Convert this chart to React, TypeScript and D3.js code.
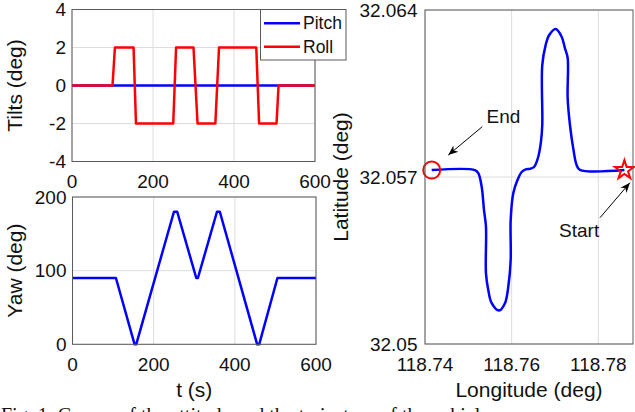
import React from "react";
import * as d3 from "d3";

// ---- data ----
const rollT = [0, 100, 106, 152, 158, 250, 257, 300, 310, 354, 363, 455, 462, 505, 510, 600];
const rollV = [0, 0, 2, 2, -2, -2, 2, 2, -2, -2, 2, 2, -2, -2, 0, 0];
const pitchT = [0, 600];
const pitchV = [0, 0];
const yawT = [0, 107, 153, 157, 250, 258, 305, 309, 356, 363, 455, 460, 505, 600];
const yawV = [90, 90, 0, 0, 180, 180, 90, 90, 180, 180, 0, 0, 90, 90];

const trajLon = [118.78602, 118.77576, 118.77499, 118.77421, 118.77345, 118.77292, 118.77292, 118.7723, 118.77153, 118.77015, 118.76867, 118.76784, 118.76706, 118.76706, 118.76676, 118.76614, 118.76521, 118.76422, 118.76323, 118.76231, 118.76134, 118.76037, 118.75977, 118.75977, 118.75922, 118.75845, 118.75707, 118.75539, 118.7546, 118.75407, 118.75407, 118.75361, 118.75308, 118.7523, 118.75153, 118.74155];
const trajLat = [32.05729, 32.0573, 32.0575, 32.0582, 32.05918, 32.06031, 32.06199, 32.06239, 32.06288, 32.0632, 32.06295, 32.06253, 32.06169, 32.05918, 32.05848, 32.05785, 32.05743, 32.05734, 32.05732, 32.05721, 32.05687, 32.05632, 32.0552, 32.05352, 32.0524, 32.05171, 32.0514, 32.05171, 32.05226, 32.05296, 32.05492, 32.05562, 32.05659, 32.05716, 32.05729, 32.05729];

const startPt = [118.78602, 32.05729];
const endPt = [118.74155, 32.05729];

const tTicks = [0, 200, 400, 600];
const tiltTicks = [-4, -2, 0, 2, 4];
const yawTicks = [0, 100, 200];
const lonTicks = [118.74, 118.76, 118.78];
const latTicks = [32.05, 32.057, 32.064];
const latTickLabels = ["32.05", "32.057", "32.064"];

const legendNames = ["Pitch", "Roll"];
const legendColors = ["#0000ff", "#ff0000"];

// annotations in data coords of the map axes: [tailLon, tailLat, headLon, headLat]
const endArrow = [118.75322, 32.05911, 118.74537, 32.05792];
const startArrow = [118.78037, 32.05529, 118.78729, 32.05676];
const endLabel = { text: "End", lon: 118.75811, lat: 32.05928 };
const startLabel = { text: "Start", lon: 118.77557, lat: 32.0545 };

const FONT = "Liberation Sans";
const SERIF = "Liberation Serif";
const AX = "#5a5a5a";
const GRID = "#dcdcdc";
const TICKF = 19;
const LABF = 21;

function Frame({ x, y, xTicks, yTicks, xFmt, yFmt, yGap = 6 }: any) {
  const [x0, x1] = x.range();
  const [y0, y1] = y.range();
  return (
    <g>
      <rect x={x0} y={y1} width={x1 - x0} height={y0 - y1} fill="white" />
      {xTicks.map((t: number, i: number) => (
        <line key={"gx" + i} x1={x(t)} x2={x(t)} y1={y0} y2={y1} stroke={GRID} strokeWidth={1} />
      ))}
      {yTicks.map((t: number, i: number) => (
        <line key={"gy" + i} x1={x0} x2={x1} y1={y(t)} y2={y(t)} stroke={GRID} strokeWidth={1} />
      ))}
      {xTicks.map((t: number, i: number) => (
        <text key={"tx" + i} x={x(t)} y={y0 + 26.5} textAnchor="middle" fontSize={TICKF} style={{ fontFamily: FONT }} fill="#111">
          {xFmt(t, i)}
        </text>
      ))}
      {yTicks.map((t: number, i: number) => (
        <text key={"ty" + i} x={x0 - yGap} y={y(t)} dy="0.35em" textAnchor="end" fontSize={TICKF} style={{ fontFamily: FONT }} fill="#111">
          {yFmt(t, i)}
        </text>
      ))}
    </g>
  );
}

function Box({ x, y }: any) {
  const [x0, x1] = x.range();
  const [y0, y1] = y.range();
  return <rect x={x0} y={y1} width={x1 - x0} height={y0 - y1} fill="none" stroke={AX} strokeWidth={1} />;
}

export default function App() {
  const xT = d3.scaleLinear().domain([0, 600]).range([72, 315]);
  const yT = d3.scaleLinear().domain([-4, 4]).range([161.5, 9.5]);
  const xY = d3.scaleLinear().domain([0, 600]).range([72.5, 316]);
  const yY = d3.scaleLinear().domain([0, 200]).range([344.3, 197]);
  const xM = d3.scaleLinear().domain([118.74, 118.788]).range([425, 633]);
  const yM = d3.scaleLinear().domain([32.05, 32.064]).range([344, 10]);

  const lineT = d3.line<number>().x((_, i) => xT(rollT[i])).y((v) => yT(v));
  const lineP = d3.line<number>().x((_, i) => xT(pitchT[i])).y((v) => yT(v));
  const lineY = d3.line<number>().x((_, i) => xY(yawT[i])).y((v) => yY(v));
  const lineM = d3
    .line<number>()
    .x((v) => xM(v))
    .y((_, i) => yM(trajLat[i]))
    .curve(d3.curveCatmullRom.alpha(0.5));

  const star = d3.symbol().type(d3.symbolStar).size(112)();
  const fmt = (t: number) => String(t);

  const arrow = (a: number[], key: string) => (
    <line key={key} x1={xM(a[0])} y1={yM(a[1])} x2={xM(a[2])} y2={yM(a[3])} stroke="#000" strokeWidth={1} markerEnd="url(#ah)" />
  );

  const lx0 = 260.5, ly0 = 9.5, lw = 85.5, lh = 50.5;
  const tf = { fontFamily: FONT };

  return (
    <svg width={635} height={412} style={{ position: "absolute", left: 0, top: 0, background: "white", fontFamily: FONT }} xmlns="http://www.w3.org/2000/svg">
      <defs>
        <marker id="ah" viewBox="0 0 10 10" refX="10" refY="5" markerWidth="10" markerHeight="10" markerUnits="userSpaceOnUse" orient="auto">
          <path d="M0,1 L10,5 L0,9 L3,5 Z" fill="#000" />
        </marker>
      </defs>
      <rect width={635} height={412} fill="white" />

      {/* Tilts */}
      <Frame x={xT} y={yT} xTicks={tTicks} yTicks={tiltTicks} xFmt={fmt} yFmt={fmt} />
      <path d={lineP(pitchV) || ""} fill="none" stroke="#0000ff" strokeWidth={2.5} />
      <path d={lineT(rollV) || ""} fill="none" stroke="#ff0000" strokeWidth={2.5} strokeLinejoin="round" />
      <Box x={xT} y={yT} />
      <text transform={`translate(21.5,${(yT.range()[0] + yT.range()[1]) / 2}) rotate(-90)`} textAnchor="middle" fontSize={LABF} style={tf} fill="#111">
        Tilts (deg)
      </text>

      {/* Yaw */}
      <Frame x={xY} y={yY} xTicks={tTicks} yTicks={yawTicks} xFmt={fmt} yFmt={fmt} />
      <path d={lineY(yawV) || ""} fill="none" stroke="#0000ff" strokeWidth={2.5} strokeLinejoin="round" />
      <Box x={xY} y={yY} />
      <text transform={`translate(21.5,${(yY.range()[0] + yY.range()[1]) / 2}) rotate(-90)`} textAnchor="middle" fontSize={LABF} style={tf} fill="#111">
        Yaw (deg)
      </text>
      <text x={(xY.range()[0] + xY.range()[1]) / 2} y={396.5} textAnchor="middle" fontSize={LABF} style={tf} fill="#111">
        t (s)
      </text>

      {/* Map */}
      <Frame x={xM} y={yM} xTicks={lonTicks} yTicks={latTicks} xFmt={(t: number) => t.toFixed(2)} yFmt={(_: number, i: number) => latTickLabels[i]} yGap={7.5} />
      <path d={lineM(trajLon) || ""} fill="none" stroke="#0000ff" strokeWidth={2.5} strokeLinejoin="round" />
      <circle cx={xM(endPt[0])} cy={yM(endPt[1])} r={8.5} fill="none" stroke="#ff0000" strokeWidth={2} />
      <path d={star || ""} transform={`translate(${xM(startPt[0])},${yM(startPt[1])})`} fill="none" stroke="#ff0000" strokeWidth={2} />
      <Box x={xM} y={yM} />
      {arrow(endArrow, "ea")}
      {arrow(startArrow, "sa")}
      <text x={xM(endLabel.lon)} y={yM(endLabel.lat)} textAnchor="middle" fontSize={TICKF} style={tf} fill="#111">
        {endLabel.text}
      </text>
      <text x={xM(startLabel.lon)} y={yM(startLabel.lat)} textAnchor="middle" fontSize={TICKF} style={tf} fill="#111">
        {startLabel.text}
      </text>
      <text transform={`translate(347.5,${(yM.range()[0] + yM.range()[1]) / 2}) rotate(-90)`} textAnchor="middle" fontSize={LABF} style={tf} fill="#111">
        Latitude (deg)
      </text>
      <text x={(xM.range()[0] + xM.range()[1]) / 2} y={396.5} textAnchor="middle" fontSize={LABF} style={tf} fill="#111">
        Longitude (deg)
      </text>

      {/* Legend */}
      <g>
        <rect x={lx0} y={ly0} width={lw} height={lh} fill="white" stroke={AX} strokeWidth={1} />
        {legendNames.map((n, i) => (
          <g key={n}>
            <line x1={264} x2={300} y1={23.3 + i * 23.4} y2={23.3 + i * 23.4} stroke={legendColors[i]} strokeWidth={2.5} />
            <text x={303} y={23.3 + i * 23.4} dy="0.35em" fontSize={17.5} style={tf} fill="#111">
              {n}
            </text>
          </g>
        ))}
      </g>

      {/* Caption (cut off at bottom, as in the reference) */}
      <text x={1} y={422} fontSize={20} style={{ fontFamily: SERIF }} fill="#111">
        Fig. 1.  Course of the attitude and the trajectory of the vehicle.
      </text>
    </svg>
  );
}
